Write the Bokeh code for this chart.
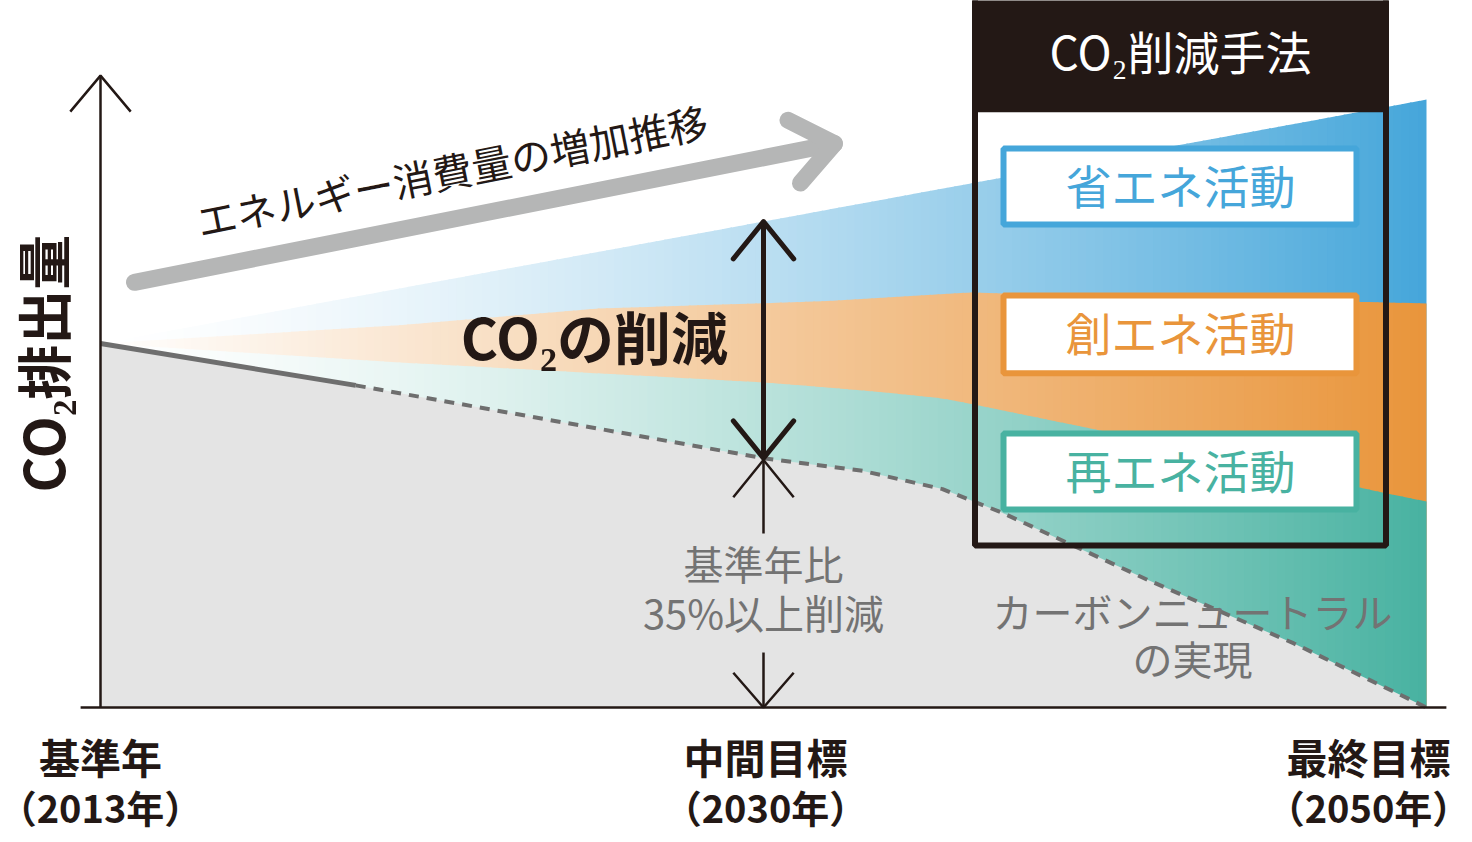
import numpy as np
from bokeh.plotting import figure
from bokeh.models import Range1d
from bokeh.embed import file_html
from bokeh.resources import INLINE
from bokeh.core.properties import value

# ---------------- data ----------------
# timeline position: 0 = 2013 (基準年), 1 = 2030 (中間目標), 2 = 2050 (最終目標)
stage_pos = [0.0, 1.003, 1.9125]
stage_names = ["基準年", "中間目標", "最終目標"]
stage_years = ["（2013年）", "（2030年）", "（2050年）"]

# CO2 emission index (2013 = 100)
actual_t = [0, 0.385]
actual_v = [100, 88.5]
target_t = [0.385, 1.0, 1.15, 1.27, 1.36, 1.58, 1.80, 2.0]
target_v = [88.5, 68.5, 65.0, 60.0, 53.5, 35.0, 17.6, 0]

# energy-consumption growth (top of 省エネ band)
bau_t = [0, 2]
bau_v = [100, 167]
# top of 創エネ band
create_t = [0, 0.45, 0.75, 1.09, 1.31, 2.0]
create_v = [100, 105.0, 109.6, 111.6, 114.0, 111.0]
# top of 再エネ band
renew_t = [0, 0.45, 0.75, 1.0, 1.09, 1.18, 1.27, 1.31, 1.50, 1.94, 2.0]
renew_v = [100, 94.8, 91.8, 89.3, 88.0, 86.6, 84.9, 83.5, 76.4, 58.8, 56.6]

method_labels = ["省エネ活動", "創エネ活動", "再エネ活動"]
method_colors = ["#45A6DA", "#E9953B", "#48B2A1"]
method_gamma = [1.45, 1.0, 1.4]

FONT = "Noto Sans CJK JP"
BLACK = "#231815"
GRAY_TXT = "#737373"
LINE_GRAY = "#6E6E6E"
AREA_GRAY = "#E4E4E4"
ARROW_GRAY = "#B5B6B6"

# ---------------- figure ----------------
SX, SY = 663.0, 3.64  # pixels per data unit
p = figure(width=1472, height=842, output_backend="svg", toolbar_location=None,
           x_range=Range1d(-100 / SX, 1372 / SX), y_range=Range1d(-135 / SY, 707 / SY),
           min_border=0)
p.axis.visible = False
p.grid.visible = False
p.outline_line_color = None
p.background_fill_color = "white"
p.border_fill_color = "white"


def hex_blend(c, a):
    r, g, b = int(c[1:3], 16), int(c[3:5], 16), int(c[5:7], 16)
    f = lambda v: int(round(255 - a * (255 - v)))
    return "#%02x%02x%02x" % (f(r), f(g), f(b))


# gradient bands (drawn as thin vertical strips, each down to zero)
N = 160
edges = np.linspace(0, 2, N + 1)
tops = [(bau_t, bau_v), (create_t, create_v), (renew_t, renew_v)]
for (tt, tv), col, gam in zip(tops, method_colors, method_gamma):
    xs, ys, cs = [], [], []
    for i in range(N):
        a = edges[i]
        b = min(edges[i + 1] + 0.0025, 2.0)
        ya, yb = np.interp(a, tt, tv), np.interp(b, tt, tv)
        xs.append([a, b, b, a])
        ys.append([ya, yb, 0, 0])
        m = (edges[i] + edges[i + 1]) / 4.0
        cs.append(hex_blend(col, m ** gam))
    p.patches(xs, ys, fill_color=cs, line_color=None)

# grey emission area
emis_t = actual_t + target_t[1:]
emis_v = actual_v + target_v[1:]
p.patch(emis_t + [2, 0], emis_v + [0, 0], fill_color=AREA_GRAY, line_color=None)
p.line(actual_t, actual_v, line_color=LINE_GRAY, line_width=5)
p.line(target_t, target_v, line_color=LINE_GRAY, line_width=4, line_dash="10 8")


def chevron(tx, ty, direction_deg, arm_px, half_deg):
    back = np.radians(direction_deg + 180)
    pts = []
    for s in (-1, 1):
        ang = back + s * np.radians(half_deg)
        pts.append((tx + arm_px * np.cos(ang) / SX, ty + arm_px * np.sin(ang) / SY))
    return [pts[0][0], tx, pts[1][0]], [pts[0][1], ty, pts[1][1]]


# axes
axis_top = 173.6
p.line([0, 0], [0, axis_top], line_color=BLACK, line_width=2.5)
cx, cy = chevron(0, axis_top, 90, 47, 40)
p.line(cx, cy, line_color=BLACK, line_width=2.5)
p.line([-0.03, 2.03], [0, 0], line_color=BLACK, line_width=2.5)

# energy consumption trend arrow
tr_s = (0.0513, 116.8)
tr_e = (1.107, 154.9)
ang = np.degrees(np.arctan2((tr_e[1] - tr_s[1]) * SY, (tr_e[0] - tr_s[0]) * SX))
p.line([tr_s[0], tr_e[0]], [tr_s[1], tr_e[1]], line_color=ARROW_GRAY, line_width=17, line_cap="round")
cx, cy = chevron(tr_e[0], tr_e[1], ang, 52, 38)
p.line(cx, cy, line_color=ARROW_GRAY, line_width=17, line_cap="round", line_join="round")
p.text(x=[0.530], y=[147.6], text=["エネルギー消費量の増加推移"], angle=np.radians(ang),
       text_font=value(FONT), text_font_size="40px", text_color=BLACK,
       text_align="center", text_baseline="middle")

# CO2 reduction double arrow at 2030
y_bau_2030 = float(np.interp(1.0, bau_t, bau_v))
y_tgt_2030 = float(np.interp(1.0, target_t, target_v))
p.line([1, 1], [y_tgt_2030, y_bau_2030], line_color=BLACK, line_width=5)
for tip, d in ((y_bau_2030, 90), (y_tgt_2030, -90)):
    cx, cy = chevron(1, tip, d, 48, 39)
    p.line(cx, cy, line_color=BLACK, line_width=5, line_cap="round", line_join="round")

# thin arrows: 35% reduction
tip_up = y_tgt_2030 - 0.5
p.line([1, 1], [tip_up, 47.8], line_color=BLACK, line_width=2.5)
cx, cy = chevron(1, tip_up, 90, 48, 39)
p.line(cx, cy, line_color=BLACK, line_width=2.5)
p.line([1, 1], [15.1, 0], line_color=BLACK, line_width=2.5)
cx, cy = chevron(1, 0, -90, 46, 41)
p.line(cx, cy, line_color=BLACK, line_width=2.5)

p.text(x=[1, 1], y=[39.8, 26.1], text=["基準年比", "35%以上削減"],
       text_font=value(FONT), text_font_size="40px", text_color=GRAY_TXT,
       text_align="center", text_baseline="middle")
p.text(x=[1.647, 1.647], y=[26.6, 13.5], text=["カーボンニュートラル", "の実現"],
       text_font=value(FONT), text_font_size="40px", text_color=GRAY_TXT,
       text_align="center", text_baseline="middle")

p.text(x=[0.745], y=[102.2], text=["CO₂の削減"], text_font=value(FONT),
       text_font_size="57px", text_font_style="bold", text_color=BLACK,
       text_align="center", text_baseline="middle")

# y label
p.text(x=[-0.0890], y=[94.5], text=["CO₂排出量"], angle=np.pi / 2,
       text_font=value(FONT), text_font_size="55px", text_font_style="bold",
       text_color=BLACK, text_align="center", text_baseline="middle")

# stage labels
p.text(x=stage_pos, y=[-13.4] * 3, text=stage_names, text_font=value(FONT),
       text_font_size="41px", text_font_style="bold", text_color=BLACK,
       text_align="center", text_baseline="middle")
p.text(x=stage_pos, y=[-27.2] * 3, text=stage_years, text_font=value(FONT),
       text_font_size="38px", text_font_style="bold", text_color=BLACK,
       text_align="center", text_baseline="middle")

# methods box
p.quad(left=[1.3152], right=[1.9427], top=[197], bottom=[163.5], fill_color=BLACK, line_color=None)
p.quad(left=[1.319], right=[1.9389], top=[197], bottom=[44.5], fill_color=None,
       line_color=BLACK, line_width=6)
p.text(x=[1.629], y=[180.5], text=["CO₂削減手法"], text_font=value(FONT),
       text_font_size="46px", text_color="white", text_align="center", text_baseline="middle")

box_top = [153.6, 113.2, 75.3]
box_bot = [132.7, 91.8, 54.4]
p.quad(left=[1.362] * 3, right=[1.8944] * 3, top=box_top, bottom=box_bot,
       fill_color="white", line_color=method_colors, line_width=6)
p.text(x=[1.629] * 3, y=[(a + b) / 2 + 0.8 for a, b in zip(box_top, box_bot)], text=method_labels,
       text_font=value(FONT), text_font_size="46px", text_color=method_colors,
       text_align="center", text_baseline="middle")

open("out.html", "w").write(file_html(p, INLINE))
